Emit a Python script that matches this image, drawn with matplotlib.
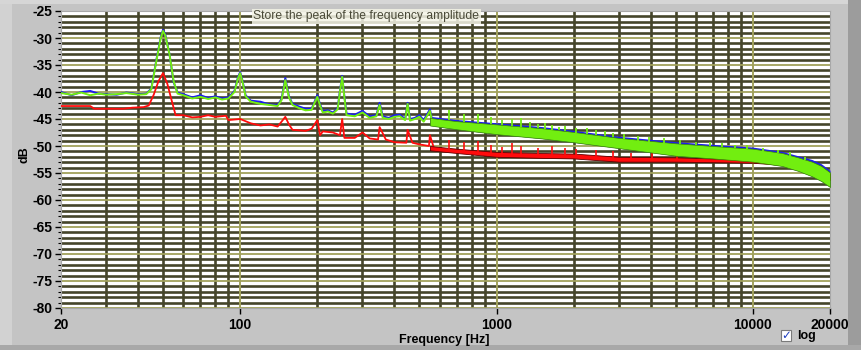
import numpy as np
import matplotlib
matplotlib.use("Agg")
import matplotlib.pyplot as plt
from matplotlib.ticker import MultipleLocator, FixedLocator, LogLocator, NullFormatter
from matplotlib.patches import Rectangle

plt.rcParams["axes.unicode_minus"] = False
plt.rcParams["font.family"] = ["Liberation Sans", "DejaVu Sans"]

# ---- data ------------------------------------------------------------------
# low-frequency traces (Hz, dB)
lf_freq = [20, 22, 24, 26, 28, 30, 33, 36, 40, 43, 45, 47, 49, 50, 51,
           53, 55, 57, 60, 65, 70, 75, 80, 85, 90, 95, 98, 100, 102, 105,
           110, 120, 130, 140, 145, 150, 155, 160, 170, 180, 190, 195, 200, 205, 210,
           220, 230, 240, 245, 250, 255, 260, 280, 300, 320, 340, 350, 360, 380, 400,
           420, 440, 450, 460, 480, 500, 520, 550, 560, 580, 600]
green_db = [-40.2, -40.5, -40.1, -40.6, -40.3, -40.5, -40.4, -40.2, -40.5, -40.4,
            -39.5, -34.5, -30.0, -28.7, -29.5, -33.0, -38.0, -40.3, -40.6, -41.2,
            -40.9, -41.3, -41.0, -41.4, -41.2, -40.0, -37.5, -36.5, -38.0, -40.8,
            -41.8, -42.2, -42.4, -42.6, -41.5, -37.8, -41.0, -42.4, -43.0, -43.4,
            -43.3, -42.0, -40.9, -42.5, -43.8, -43.6, -44.0, -43.2, -40.0, -37.2,
            -41.0, -44.3, -44.5, -43.8, -44.8, -44.5, -42.4, -44.8, -45.0, -44.6,
            -44.5, -45.2, -42.2, -45.3, -45.0, -44.6, -45.5, -43.5, -45.4, -45.6,
            -45.2]
blue_db = [-40.0, -40.6, -40.0, -39.8, -40.3, -40.4, -40.5, -40.1, -40.4, -40.3,
           -39.4, -34.3, -29.8, -28.5, -29.3, -33.0, -38.2, -40.1, -40.4, -41.0,
           -40.6, -41.1, -40.8, -41.2, -41.0, -39.8, -37.3, -36.3, -37.8, -40.6,
           -41.6, -41.8, -42.3, -42.4, -41.3, -37.4, -40.8, -42.2, -42.7, -43.1,
           -43.1, -41.8, -40.6, -42.3, -43.5, -43.4, -43.8, -43.0, -39.8, -37.0,
           -40.8, -44.0, -44.2, -43.5, -44.5, -44.3, -42.0, -44.5, -44.8, -44.3,
           -44.2, -45.0, -42.0, -45.0, -44.8, -44.3, -45.2, -43.2, -45.1, -45.3,
           -45.0]

red_freq = [20, 26, 27, 35, 38, 42, 44, 46, 48, 50, 52, 54, 56, 60, 65,
            70, 75, 80, 88, 90, 100, 110, 120, 130, 140, 145, 150, 155, 160, 180,
            190, 200, 205, 210, 230, 245, 250, 255, 280, 300, 320, 345, 350, 370, 400,
            445, 450, 470, 500, 545, 550, 570, 600]
red_db = [-42.6, -42.6, -43.1, -43.1, -42.9, -42.8, -42.5, -40.5, -38.0, -36.5,
          -38.5, -41.5, -44.3, -44.3, -44.7, -44.6, -44.3, -44.6, -44.4, -45.2,
          -45.0, -45.8, -46.2, -46.0, -46.4, -45.5, -44.6, -46.0, -47.0, -47.2,
          -46.8, -45.2, -48.0, -47.3, -47.5, -48.0, -45.0, -48.5, -48.5, -47.5,
          -48.6, -48.8, -46.5, -48.8, -49.3, -49.4, -47.0, -49.4, -49.7, -50.0,
          -48.0, -50.4, -50.4]

# noisy high-frequency region: envelopes of each trace
band_freq = [550, 700, 1000, 1500, 2000, 3000, 5000, 7000, 10000, 13000, 15000, 17000, 18500, 20000]
green_hi = [-44.8, -45.4, -46.0, -46.7, -47.4, -48.5, -49.5, -50.0, -50.5, -51.3, -52.1, -52.9, -53.7, -54.9]
green_lo = [-46.2, -46.9, -47.8, -48.6, -49.3, -50.4, -51.8, -52.3, -52.9, -53.7, -54.6, -55.6, -56.5, -57.6]
blue_hi = [-44.5, -45.1, -45.7, -46.4, -47.1, -48.2, -49.2, -49.7, -50.2, -51.0, -51.8, -52.5, -53.3, -54.5]
red_hi = [-50.0, -50.5, -51.1, -51.3, -51.4, -52.0, -52.1, -52.3, -52.6, -52.9, -53.1, -53.4, -53.8, -55.2]
red_lo = [-50.8, -51.3, -52.0, -52.2, -52.3, -52.9, -52.9, -53.0, -53.1, -53.5, -53.9, -54.3, -54.8, -56.3]

# harmonic spikes sticking out of the bands
green_spike_f = [650, 750, 850, 950, 1050, 1150, 1250, 1350, 1450, 1550, 1650,
                 1750, 1850, 2050, 2250, 2450, 2650, 2850, 3150, 3550, 3950,
                 4500, 5200, 6000, 6800, 7600, 8500, 9500, 11000, 12500, 14000, 16000]
green_spike_top = [-43.4, -44.1, -44.0, -44.6, -45.2, -45.0, -44.8, -45.6, -45.9, -45.8, -46.2,
                   -46.4, -46.3, -46.7, -46.6, -47.0, -47.3, -47.5, -47.8, -48.1, -48.4,
                   -48.6, -48.9, -49.2, -49.3, -49.5, -49.8, -49.9, -50.3, -50.7, -51.2, -52.0]
green_spike_base = [-45.2, -45.5, -45.7, -45.9, -46.1, -46.3, -46.5, -46.6, -46.7, -46.9, -47.0,
                    -47.1, -47.2, -47.5, -47.7, -47.9, -48.2, -48.4, -48.7, -49.0, -49.2,
                    -49.4, -49.6, -49.8, -50.0, -50.2, -50.4, -50.6, -50.9, -51.3, -51.8, -52.6]
red_spike_f = [650, 750, 850, 950, 1050, 1150, 1250, 1450, 1650, 1850, 2050, 2450, 2850, 3350, 4050, 5050]
red_spike_top = [-48.8, -49.2, -49.0, -49.8, -50.2, -49.5, -50.0, -50.3, -50.0, -50.4,
                 -50.6, -50.8, -51.0, -51.3, -51.3, -51.5]
red_spike_base = [-50.8, -51.0, -51.2, -51.5, -51.7, -51.8, -51.9, -52.0, -52.1, -52.1,
                  -52.2, -52.4, -52.6, -52.8, -52.8, -52.8]

x_ticks = [20, 100, 1000, 10000, 20000]
x_ticklabels = ["20", "100", "1000", "10000", "20000"]
title = "Store the peak of the frequency amplitude"

# ---- styling ----------------------------------------------------------------
BG = "#c4c4c4"
DARK = "#45452a"
KHAKI = "#a2a25c"
GREEN = "#72ee10"
BLUE = "#1c1cf0"
RED = "#ff0c0c"

fig = plt.figure(figsize=(8.62, 3.5), dpi=100, facecolor=BG)
ax = fig.add_axes([61 / 862, 1 - 308 / 350, 769 / 862, 297 / 350])
ax.set_facecolor("white")

ax.set_xscale("log")
ax.set_xlim(20, 20000)
ax.set_ylim(-80, -25)

ax.yaxis.set_major_locator(MultipleLocator(5))
ax.yaxis.set_minor_locator(MultipleLocator(1))
ax.xaxis.set_major_locator(FixedLocator(x_ticks))
ax.xaxis.set_major_formatter(plt.FixedFormatter(x_ticklabels))
ax.xaxis.set_minor_locator(LogLocator(base=10, subs=np.arange(2, 10), numticks=20))
ax.xaxis.set_minor_formatter(NullFormatter())

ax.set_axisbelow(True)
ax.grid(which="minor", axis="both", color=DARK, lw=1.9)
ax.grid(which="major", axis="y", color=KHAKI, lw=1.3)
for dec in (100, 1000, 10000):
    ax.axvline(dec, color=KHAKI, lw=1.4, zorder=0.6)

ax.tick_params(axis="y", which="major", length=4, width=1, color="black", pad=2,
               labelsize=10)
ax.tick_params(axis="y", which="minor", length=2, width=0.8, color="black")
ax.tick_params(axis="x", which="major", length=4, width=1, color="black", pad=3,
               labelsize=10)
ax.tick_params(axis="x", which="minor", length=0)
for lab in ax.get_xticklabels() + ax.get_yticklabels():
    lab.set_fontweight("bold")
for sp in ax.spines.values():
    sp.set_color("#a8a8a8")
    sp.set_linewidth(0.8)

# ---- traces ---------------------------------------------------------------
ax.plot(lf_freq, blue_db, color=BLUE, lw=1.4, zorder=3)
ax.fill_between(band_freq, green_lo, blue_hi, color=BLUE, lw=0, zorder=3)
ax.plot(red_freq, red_db, color=RED, lw=1.3, zorder=3)
ax.fill_between(band_freq, red_lo, red_hi, color=RED, edgecolor="#600000", lw=0.6, zorder=3)
ax.vlines(red_spike_f, red_spike_base, red_spike_top, color=RED, lw=1.2, zorder=3)
ax.plot(lf_freq, green_db, color=GREEN, lw=1.4, zorder=4)
ax.fill_between(band_freq, green_lo, green_hi, color=GREEN, edgecolor="#3d8a00", lw=0.5, zorder=4)
ax.vlines(green_spike_f, green_spike_base, green_spike_top, color=GREEN, lw=1.3, zorder=4)

# annotation at top of the plot
ax.text(0.397, 0.982, title, transform=ax.transAxes, ha="center", va="center",
        fontsize=8.7, color="#4a4a38", zorder=6,
        bbox=dict(boxstyle="square,pad=0.12", fc="#f4f4e6", ec="none", alpha=0.85))

# axis labels
fig.text(25 / 862, 1 - 155 / 350, "dB", rotation=90, ha="center", va="center",
         fontsize=9, fontweight="bold")
fig.text(444 / 862, 1 - 340 / 350, "Frequency [Hz]", ha="center", va="center",
         fontsize=9, fontweight="bold")

# "log" check box
fig.add_artist(Rectangle((781 / 862, 1 - 341 / 350), 10 / 862, 11 / 350,
                         transform=fig.transFigure, fc="white", ec="#7a7a7a", lw=0.8))
fig.text(786 / 862, 1 - 335.5 / 350, "\u2713", ha="center", va="center",
         fontsize=8.5, color="#2040c0", family="DejaVu Sans", fontweight="bold")
fig.text(797 / 862, 1 - 336 / 350, "log", ha="left", va="center",
         fontsize=9, fontweight="bold")

# panel frame
fig.add_artist(Rectangle((0, 0), 12 / 862, 1, transform=fig.transFigure,
                         fc="#d2d2d2", ec="none", zorder=-1))
fig.add_artist(Rectangle((0, 1 - 4 / 350), 1, 4 / 350, transform=fig.transFigure,
                         fc="#d6d6d6", ec="none", zorder=-1))
fig.add_artist(Rectangle((848 / 862, 0), 14 / 862, 1, transform=fig.transFigure,
                         fc="#9c9c9c", ec="none", zorder=-1))
fig.add_artist(Rectangle((0, 0), 1, 5 / 350, transform=fig.transFigure,
                         fc="#a8a8a8", ec="none", zorder=-1))

fig.savefig("out.png", dpi=100, facecolor=BG)
